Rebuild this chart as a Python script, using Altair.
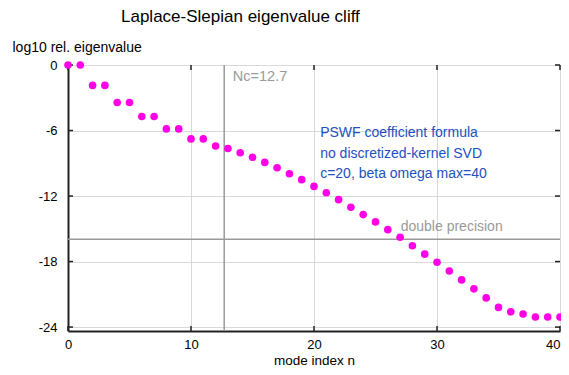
import altair as alt
import pandas as pd

# mode index and log10 relative eigenvalue
modes = list(range(41))
log_eig = [0.0, 0.0, -1.87, -1.87, -3.43, -3.43, -4.72, -4.72, -5.85, -5.85,
           -6.77, -6.77, -7.42, -7.65, -8.04, -8.45, -8.92, -9.41, -9.96, -10.5,
           -11.12, -11.7, -12.33, -13.03, -13.7, -14.37, -15.08, -15.78, -16.55, -17.32,
           -18.07, -18.86, -19.68, -20.5, -21.33, -22.2, -22.6, -22.8, -23.08, -23.08, -23.08]

x_ticks = [0, 10, 20, 30, 40]
y_ticks = [0, -6, -12, -18, -24]
nc_value = [12.7]
eps_value = [-15.95]
note_lines = ["PSWF coefficient formula", "no discretized-kernel SVD", "c=20, beta omega max=40"]
note_y = [-6.2, -8.12, -9.98]

W, H = 492, 266
FONT = "Liberation Sans"

df = pd.DataFrame({"n": modes, "v": log_eig})
xs = alt.Scale(domain=[0, 40], nice=False, zero=False)
ys = alt.Scale(domain=[-24.36, 0], nice=False, zero=False)

points = alt.Chart(df).mark_circle(size=58, color="#ff00e6", opacity=1).encode(
    x=alt.X("n:Q", scale=xs, title="mode index n",
            axis=alt.Axis(values=x_ticks, tickSize=0, labelPadding=7, grid=True,
                          gridColor="#d9d9d9", domainColor="#222", domainWidth=2,
                          labelFontSize=13, titleFontSize=13.5, titleFontWeight="normal",
                          labelAlign={"condition": {"test": "datum.value == 40", "value": "right"},
                                      "value": "center"},
                          titleBaseline="alphabetic", titleY=33,
                          labelFont=FONT, titleFont=FONT, labelColor="#000",
                          titleColor="#000", labelExpr="'' + datum.value")),
    y=alt.Y("v:Q", scale=ys, title="log10 rel. eigenvalue",
            axis=alt.Axis(values=y_ticks, tickSize=0, labelPadding=11, grid=True,
                          gridColor="#d9d9d9", domainColor="#222", domainWidth=2,
                          labelFontSize=13, titleFontSize=14, titleFontWeight="normal",
                          titleAngle=0, titleAlign="left", titleBaseline="middle",
                          titleX=-56, titleY=-18, labelFont=FONT, titleFont=FONT,
                          labelColor="#000", titleColor="#000",
                          labelExpr="'' + datum.value")),
)

nc_rule = alt.Chart(pd.DataFrame({"nc": nc_value})).mark_rule(
    color="#9a9a9a", strokeWidth=1.5).encode(x=alt.X("nc:Q", scale=xs))
eps_rule = alt.Chart(pd.DataFrame({"e": eps_value})).mark_rule(
    color="#9a9a9a", strokeWidth=1.5).encode(y=alt.Y("e:Q", scale=ys))

nc_text = alt.Chart(pd.DataFrame({"x": [13.4], "y": [-1.07], "t": ["Nc=12.7"]})).mark_text(
    align="left", baseline="middle", fontSize=14.5, font=FONT, color="#9a9a9a").encode(
    x=alt.X("x:Q", scale=xs), y=alt.Y("y:Q", scale=ys), text="t:N")

note_text = alt.Chart(pd.DataFrame({"x": [20.5] * 3, "y": note_y, "t": note_lines})).mark_text(
    align="left", baseline="middle", fontSize=14, font=FONT, color="#2350c0").encode(
    x=alt.X("x:Q", scale=xs), y=alt.Y("y:Q", scale=ys), text="t:N")

eps_text = alt.Chart(pd.DataFrame({"x": [27.05], "y": [-14.84], "t": ["double precision"]})).mark_text(
    align="left", baseline="middle", fontSize=14, font=FONT, color="#9a9a9a").encode(
    x=alt.X("x:Q", scale=xs), y=alt.Y("y:Q", scale=ys), text="t:N")

# inward tick marks on all four sides
xt = pd.DataFrame({"tx": x_ticks})
yt = pd.DataFrame({"ty": y_ticks})
tick_style = dict(color="#222", strokeWidth=1.5)
bottom_ticks = alt.Chart(xt).mark_rule(**tick_style).encode(
    x=alt.X("tx:Q", scale=xs), y=alt.value(H), y2=alt.value(H - 5))
top_ticks = alt.Chart(xt).mark_rule(**tick_style).encode(
    x=alt.X("tx:Q", scale=xs), y=alt.value(0), y2=alt.value(5))
left_ticks = alt.Chart(yt).mark_rule(**tick_style).encode(
    y=alt.Y("ty:Q", scale=ys), x=alt.value(0), x2=alt.value(5))
right_ticks = alt.Chart(yt).mark_rule(**tick_style).encode(
    y=alt.Y("ty:Q", scale=ys), x=alt.value(W), x2=alt.value(W - 5))

chart = alt.layer(
    nc_rule, eps_rule, bottom_ticks, top_ticks, left_ticks, right_ticks,
    nc_text, note_text, eps_text, points
).properties(
    width=W, height=H,
    title=alt.TitleParams("Laplace-Slepian eigenvalue cliff", anchor="start", frame="group",
                          dx=53, offset=14, fontSize=17, fontWeight="normal", font=FONT,
                          color="#000"),
    autosize=alt.AutoSizeParams(type="none"),
    padding={"left": 60, "top": 57, "right": 1, "bottom": 36},
).configure_view(stroke="#222", strokeWidth=1.5).configure(background="white")

chart.save("out.html", embed_options={"renderer": "svg", "actions": False})
